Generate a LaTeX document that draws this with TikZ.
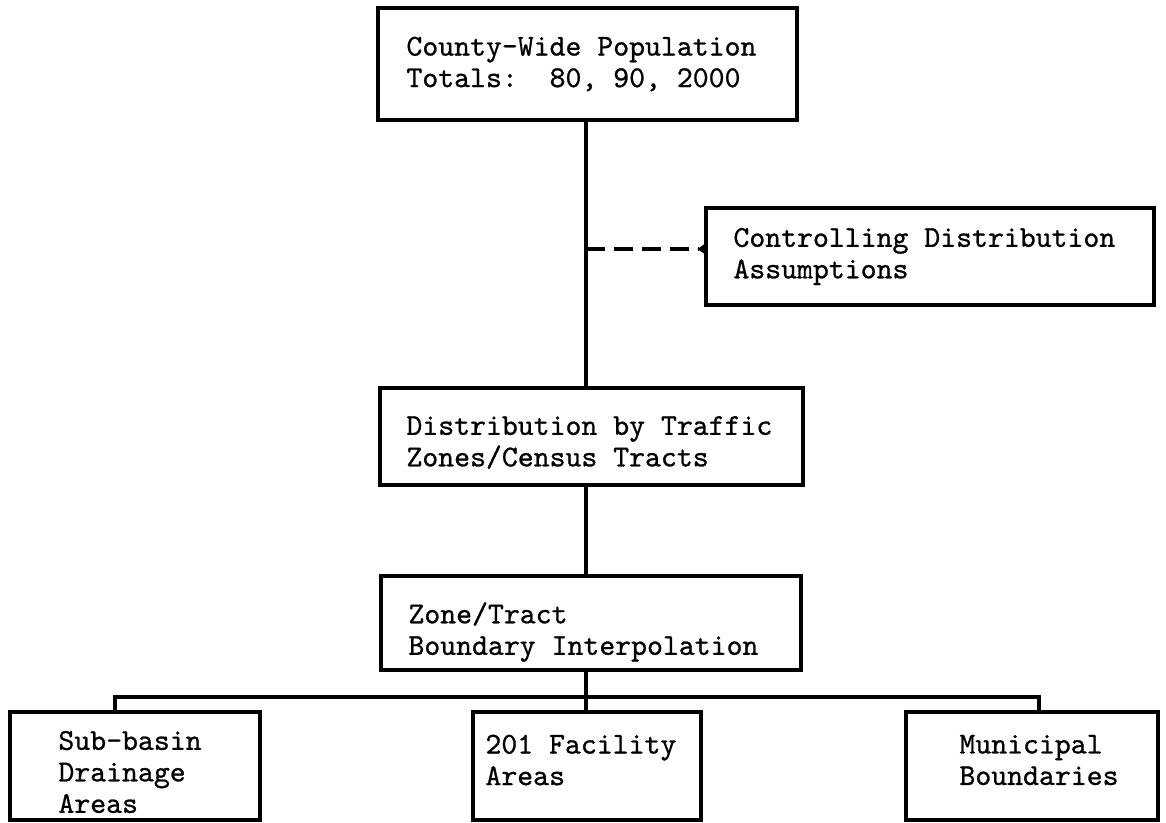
\documentclass[tikz,border=0pt]{standalone}
\usepackage{fontspec}
\newfontfamily\typew{lmmono10-regular.otf}[FakeBold=0.8]
\usetikzlibrary{arrows.meta}
\begin{document}
\begin{tikzpicture}[x=1pt,y=-1pt,
  box/.style={draw=black,line width=3.5pt,inner sep=0pt,minimum height=#1},
  box/.default=97pt,
  txt/.style={anchor=west,inner sep=0pt,align=left,font=\fontsize{30.3}{31.5}\selectfont\typew},
  conn/.style={draw=black,line width=3.5pt},
  dconn/.style={draw=black,line width=3.5pt,dash pattern=on 19pt off 9pt}]
\useasboundingbox (0,0) rectangle (1166,822);
% boxes
\node[box=112pt,minimum width=419pt] (top) at (587.5,64) {};
\node[box=97pt,minimum width=448pt] (ctrl) at (930,256.5) {};
\node[box=97pt,minimum width=423pt] (dist) at (591.5,436.5) {};
\node[box=94pt,minimum width=420pt] (zone) at (591,623) {};
\node[box=108pt,minimum width=250pt] (b1) at (135,766) {};
\node[box=108pt,minimum width=228pt] (b2) at (587,766) {};
\node[box=108pt,minimum width=252pt] (b3) at (1032,766) {};
% texts
\node[txt] (topT) at ([xshift=30pt]top.west) {County-Wide Population\\Totals:~~80, 90, 2000};
\node[txt] (ctrlT) at ([xshift=29pt]ctrl.west) {Controlling Distribution\\Assumptions};
\node[txt] (distT) at ([xshift=28pt,yshift=-6pt]dist.west) {Distribution by Traffic\\Zones/Census Tracts};
\node[txt] (zoneT) at ([xshift=29pt,yshift=-9pt]zone.west) {Zone/Tract\\Boundary Interpolation};
\node[txt] (b1T) at ([xshift=50pt,yshift=-6pt]b1.west) {Sub-basin\\Drainage\\Areas};
\node[txt] (b2T) at ([xshift=14pt,yshift=6pt]b2.west) {201 Facility\\Areas};
\node[txt] (b3T) at ([xshift=55pt,yshift=6pt]b3.west) {Municipal\\Boundaries};
% connector coordinates
\coordinate (spine) at (586,0);
\coordinate (dj) at (586,249);
\coordinate (bar) at (586,697);
\coordinate (bl) at (115,697);
\coordinate (br) at (1039,697);
% connectors
\draw[conn] (top.south -| spine) -- (dist.north -| spine);
\draw[dconn,-{Triangle[reversed,length=7pt,width=9pt]}] (dj) -- (ctrl.west |- dj);
\draw[conn] (dist.south -| spine) -- (zone.north -| spine);
\draw[conn] (zone.south -| spine) -- (bar);
\draw[conn] (b1.north -| bl) -- (bl) -- (br) -- (b3.north -| br);
\draw[conn] (bar) -- (b2.north -| spine);
\end{tikzpicture}
\end{document}
